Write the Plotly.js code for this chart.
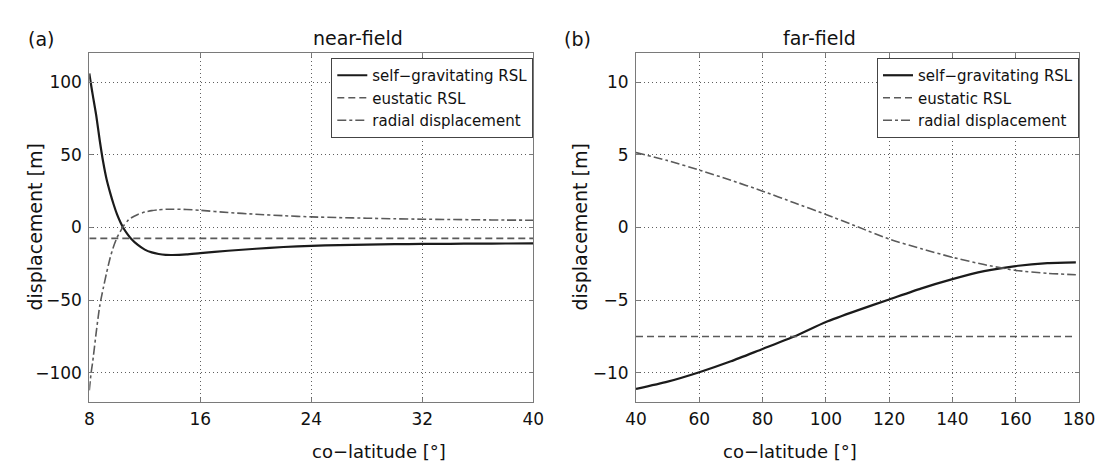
<!DOCTYPE html>
<html>
<head>
<meta charset="utf-8">
<script src="https://cdn.plot.ly/plotly-3.0.1.min.js"></script>
<style>html,body{margin:0;padding:0;background:#fff;}#chart{width:1101px;height:464px;}</style>
</head>
<body>
<div id="chart"></div>
<script>
// ---------- near-field (a) ----------
const nearX = [8, 8.13, 8.25, 8.5, 8.75, 9, 9.25, 9.5, 9.75, 10, 10.25, 10.5, 10.75, 11, 11.5, 12, 12.5, 13, 13.5, 14, 15, 16, 18, 20, 22, 24, 26, 28, 30, 32, 34, 36, 38, 40];
const nearSelfGrav = [106, 98, 91, 77, 60, 45, 33, 24, 16, 9, 3.5, -1, -4.5, -7.5, -12, -15.2, -17.1, -18.2, -18.8, -18.9, -18.5, -17.6, -16, -14.6, -13.4, -12.6, -12.1, -11.8, -11.5, -11.3, -11.2, -11.1, -11.0, -10.9];
const nearEustatic = [-7.5, -7.5, -7.5, -7.5, -7.5, -7.5, -7.5, -7.5, -7.5, -7.5, -7.5, -7.5, -7.5, -7.5, -7.5, -7.5, -7.5, -7.5, -7.5, -7.5, -7.5, -7.5, -7.5, -7.5, -7.5, -7.5, -7.5, -7.5, -7.5, -7.5, -7.5, -7.5, -7.5, -7.5];
const nearRadial = [-112, -100, -92, -72, -54, -42, -31, -21, -13, -7, -2.5, 1.5, 4.5, 6.5, 9, 10.6, 11.6, 12.2, 12.5, 12.6, 12.4, 11.8, 10.3, 9.1, 8.1, 7.3, 6.8, 6.4, 6.0, 5.7, 5.5, 5.3, 5.1, 5.0];

// ---------- far-field (b) ----------
const farX = [40, 50, 60, 70, 80, 90, 100, 110, 120, 130, 140, 150, 160, 170, 179];
const farSelfGrav = [-11.1, -10.6, -9.95, -9.2, -8.35, -7.5, -6.5, -5.7, -4.95, -4.2, -3.55, -3.0, -2.65, -2.45, -2.4];
const farEustatic = [-7.5, -7.5, -7.5, -7.5, -7.5, -7.5, -7.5, -7.5, -7.5, -7.5, -7.5, -7.5, -7.5, -7.5, -7.5];
const farRadial = [5.15, 4.6, 3.95, 3.25, 2.5, 1.7, 0.9, 0.05, -0.8, -1.45, -2.05, -2.55, -2.95, -3.15, -3.25];

// ---------- labels ----------
const seriesNames = ["self\u2212gravitating RSL", "eustatic RSL", "radial displacement"];
const panelLetters = ["(a)", "(b)"];
const panelTitles = ["near-field", "far-field"];
const xTitle = "co\u2212latitude [\u00b0]";
const yTitle = "displacement [m]";
const nearXTicks = [8, 16, 24, 32, 40];
const nearYTicks = [-100, -50, 0, 50, 100];
const farXTicks = [40, 60, 80, 100, 120, 140, 160, 180];
const farYTicks = [-10, -5, 0, 5, 10];

const FONT = "DejaVu Sans, Liberation Sans, Arial, sans-serif";
const styles = [
  {color: "#1b1b1b", width: 2.2, dash: "solid", shape: "spline", smoothing: 0.6},
  {color: "#5a5a5a", width: 1.6, dash: "7px,4px"},
  {color: "#5a5a5a", width: 1.6, dash: "dashdot", shape: "spline", smoothing: 0.6}
];

function mk(x, y, i, xa, ya, leg) {
  return {x: x, y: y, type: "scatter", mode: "lines", name: seriesNames[i],
    xaxis: xa, yaxis: ya, legend: leg, line: styles[i], hoverinfo: "skip"};
}

const data = [
  mk(nearX, nearSelfGrav, 0, "x", "y", "legend"),
  mk(nearX, nearEustatic, 1, "x", "y", "legend"),
  mk(nearX, nearRadial, 2, "x", "y", "legend"),
  mk(farX, farSelfGrav, 0, "x2", "y2", "legend2"),
  mk(farX, farEustatic, 1, "x2", "y2", "legend2"),
  mk(farX, farRadial, 2, "x2", "y2", "legend2")
];

const axBase = {
  showline: true, mirror: "allticks", linecolor: "#7a7a7a", linewidth: 1,
  ticks: "inside", ticklen: 4, tickcolor: "#7a7a7a",
  showgrid: true, gridcolor: "#5f5f5f", griddash: "1px,3px", gridwidth: 1,
  zeroline: false, tickfont: {family: FONT, size: 17, color: "#111"},
  fixedrange: true
};

const dL = [89.3 / 1101, 533.3 / 1101];
const dR = [636 / 1101, 1079 / 1101];
const T = 53, B = 62, H = 464 - T - B;
function py(p) { return (464 - B - p) / H; }
const tf = {family: FONT, size: 19, color: "#111"};
const xf = {family: FONT, size: 18, color: "#111"};

const layout = {
  width: 1101, height: 464,
  margin: {l: 0, r: 0, t: T, b: B},
  paper_bgcolor: "#fff", plot_bgcolor: "#fff",
  font: {family: FONT, color: "#111"},
  xaxis: Object.assign({}, axBase, {domain: dL, range: [8, 40], tickvals: nearXTicks, anchor: "y", ticklabelstandoff: 2}),
  yaxis: Object.assign({}, axBase, {domain: [0, 1], range: [-120, 120], tickvals: nearYTicks, anchor: "x", ticklabelstandoff: 3}),
  xaxis2: Object.assign({}, axBase, {domain: dR, range: [40, 180], tickvals: farXTicks, anchor: "y2", ticklabelstandoff: 2}),
  yaxis2: Object.assign({}, axBase, {domain: [0, 1], range: [-12, 12], tickvals: farYTicks, anchor: "x2", ticklabelstandoff: 3}),
  legend: {x: dL[1], xanchor: "right", y: py(58), yanchor: "top",
    bgcolor: "#fff", bordercolor: "#444", borderwidth: 1,
    font: {family: FONT, size: 15, color: "#111"}, tracegroupgap: 0},
  legend2: {x: dR[1], xanchor: "right", y: py(58), yanchor: "top",
    bgcolor: "#fff", bordercolor: "#444", borderwidth: 1,
    font: {family: FONT, size: 15, color: "#111"}, tracegroupgap: 0},
  annotations: [
    {text: panelLetters[0], xref: "paper", yref: "paper", x: 26 / 1101, y: py(26), showarrow: false, font: tf},
    {text: panelTitles[0], xref: "paper", yref: "paper", x: (dL[0] + dL[1]) / 2, y: py(25), showarrow: false, font: tf},
    {text: panelLetters[1], xref: "paper", yref: "paper", x: 577 / 1101, y: py(26), showarrow: false, font: tf},
    {text: panelTitles[1], xref: "paper", yref: "paper", x: (dR[0] + dR[1]) / 2, y: py(25), showarrow: false, font: tf},
    {text: xTitle, xref: "paper", yref: "paper", x: (dL[0] + dL[1]) / 2, y: py(451), yanchor: "middle", borderpad: 0, showarrow: false, font: xf},
    {text: xTitle, xref: "paper", yref: "paper", x: (dR[0] + dR[1]) / 2, y: py(451), yanchor: "middle", borderpad: 0, showarrow: false, font: xf},
    {text: yTitle, xref: "paper", yref: "paper", x: 21 / 1101, y: 0.5, textangle: -90, showarrow: false, font: tf},
    {text: yTitle, xref: "paper", yref: "paper", x: 579 / 1101, y: 0.5, textangle: -90, showarrow: false, font: tf}
  ]
};

Plotly.newPlot("chart", data, layout, {displayModeBar: false, staticPlot: true});
</script>
</body>
</html>
